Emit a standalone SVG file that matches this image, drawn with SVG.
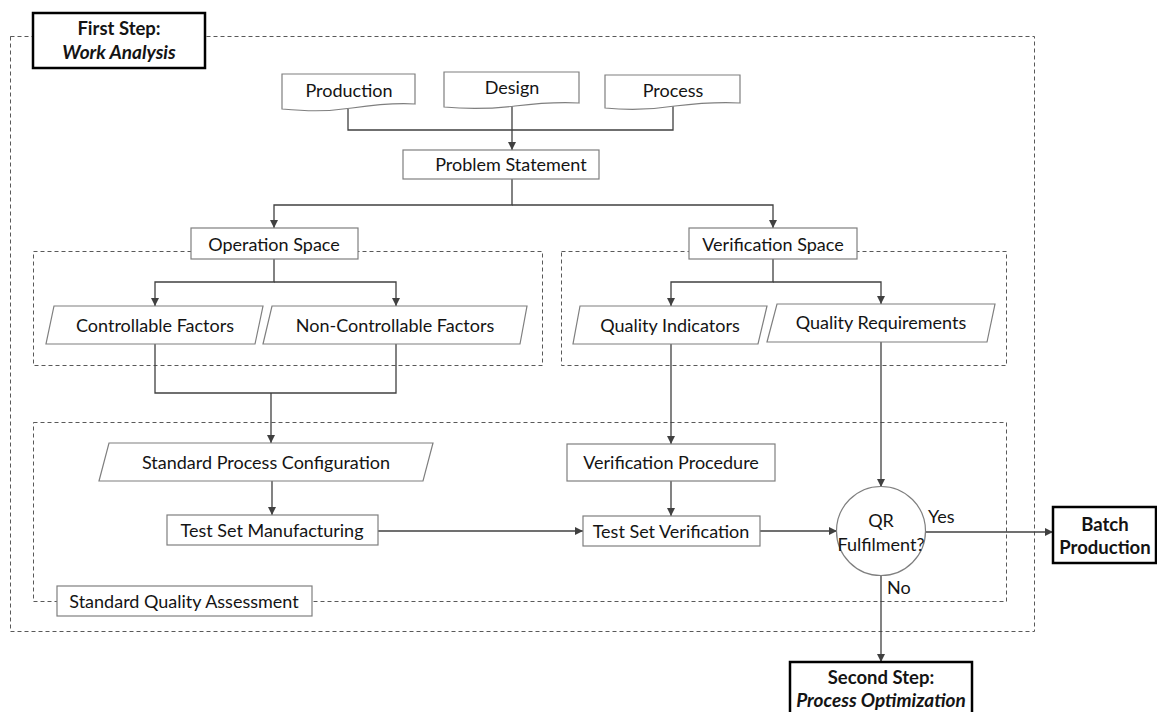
<svg xmlns="http://www.w3.org/2000/svg" width="1157" height="712" viewBox="0 0 1157 712">
<style>
text{font-family:Lato,"Liberation Sans",sans-serif;font-size:18px;fill:#141414;text-anchor:middle}
.box{fill:#fff;stroke:#7f7f7f;stroke-width:1.2}
.step{fill:#fff;stroke:#000;stroke-width:2.5}
.b{font-weight:bold;font-size:18.5px}
.bi{font-weight:bold;font-style:italic;font-size:19px}
.dash{fill:none;stroke:#595959;stroke-width:1;stroke-dasharray:4 3}
.c{fill:none;stroke:#404040;stroke-width:1.3}
.a{marker-end:url(#arr)}
.lbl{text-anchor:start}
</style>
<defs>
<marker id="arr" markerUnits="userSpaceOnUse" markerWidth="10" markerHeight="10" refX="8" refY="4" orient="auto">
<path d="M0,0 L8,4 L0,8 z" fill="#404040"/>
</marker>
</defs>
<g id="containers">
<rect class="dash" x="10.5" y="36.5" width="1024" height="595"/>
<rect class="dash" x="33.5" y="251.5" width="509" height="114"/>
<rect class="dash" x="561.5" y="251.5" width="445" height="114"/>
<rect class="dash" x="33.5" y="422.5" width="973" height="179"/>
</g>
<g id="connectors">
<path class="c" d="M348,109 V130 H673 V106"/>
<path class="c a" d="M512,105 V150"/>
<path class="c a" d="M512,179 V205 H274 V228"/>
<path class="c a" d="M512,205 H773 V228"/>
<path class="c a" d="M274,259 V282 H155 V306"/>
<path class="c a" d="M274,282 H396 V306"/>
<path class="c a" d="M773,259 V282 H671 V306"/>
<path class="c a" d="M773,282 H881 V304"/>
<path class="c" d="M155,344 V393 H396 V344"/>
<path class="c a" d="M271,393 V443"/>
<path class="c a" d="M272,481 V515"/>
<path class="c a" d="M671,344 V444"/>
<path class="c a" d="M671,481 V516"/>
<path class="c a" d="M881,342 V487"/>
<path class="c a" d="M378,531 H583"/>
<path class="c a" d="M760,531 H837"/>
<path class="c a" d="M926,532 H1053"/>
<path class="c a" d="M881,576 V662"/>
<text class="lbl" x="928" y="523">Yes</text>
<text class="lbl" x="887" y="594">No</text>
</g>
<g id="first-step">
<rect class="step" x="33" y="13" width="172" height="55"/>
<text class="b" x="119" y="35">First Step:</text>
<text class="bi" x="119" y="59">Work Analysis</text>
</g>
<g id="production">
<path class="box" d="M282,74 H415 V104 C400,103 380,104 352,108 C325,112 305,111 282,109 Z"/>
<text x="349" y="97">Production</text>
</g>
<g id="design">
<path class="box" d="M444,72 H579 V103 C560,102 540,103 515,106 C490,109 465,109 444,107 Z"/>
<text x="512" y="94">Design</text>
</g>
<g id="process">
<path class="box" d="M605,75 H740 V103 C720,102 700,103 675,106 C650,110 625,110 605,108 Z"/>
<text x="673" y="97">Process</text>
</g>
<g id="problem-statement">
<rect class="box" x="403" y="150" width="196" height="29"/>
<text x="511" y="171">Problem Statement</text>
</g>
<g id="operation-space">
<rect class="box" x="191" y="228" width="167" height="31"/>
<text x="274" y="251">Operation Space</text>
</g>
<g id="verification-space">
<rect class="box" x="689" y="228" width="168" height="31"/>
<text x="773" y="251">Verification Space</text>
</g>
<g id="controllable-factors">
<path class="box" d="M54,306 H263 L255,344 H46 Z"/>
<text x="155" y="332">Controllable Factors</text>
</g>
<g id="non-controllable-factors">
<path class="box" d="M272,306 H527 L520,344 H263 Z"/>
<text x="395" y="332">Non-Controllable Factors</text>
</g>
<g id="quality-indicators">
<path class="box" d="M580,306 H767 L758,344 H573 Z"/>
<text x="670" y="332">Quality Indicators</text>
</g>
<g id="quality-requirements">
<path class="box" d="M777,304 H995 L987,342 H767 Z"/>
<text x="881" y="329">Quality Requirements</text>
</g>
<g id="standard-process-configuration">
<path class="box" d="M109,443 H433 L423,481 H99 Z"/>
<text x="266" y="469">Standard Process Configuration</text>
</g>
<g id="verification-procedure">
<rect class="box" x="567" y="444" width="208" height="37"/>
<text x="671" y="469">Verification Procedure</text>
</g>
<g id="test-set-manufacturing">
<rect class="box" x="167" y="515" width="211" height="30"/>
<text x="272" y="537">Test Set Manufacturing</text>
</g>
<g id="test-set-verification">
<rect class="box" x="583" y="516" width="177" height="30"/>
<text x="671" y="538">Test Set Verification</text>
</g>
<g id="qr-fulfilment">
<circle class="box" cx="881" cy="531" r="44.5"/>
<text x="881" y="527">QR</text>
<text x="881" y="551">Fulfilment?</text>
</g>
<g id="standard-quality-assessment">
<rect class="box" x="57" y="586" width="255" height="30"/>
<text x="184" y="608">Standard Quality Assessment</text>
</g>
<g id="batch-production">
<rect class="step" x="1053" y="507" width="103" height="56"/>
<text class="b" x="1105" y="531">Batch</text>
<text class="b" x="1105" y="554">Production</text>
</g>
<g id="second-step">
<rect class="step" x="790" y="662" width="182" height="56"/>
<text class="b" x="881" y="684">Second Step:</text>
<text class="bi" x="881" y="707">Process Optimization</text>
</g>
</svg>
